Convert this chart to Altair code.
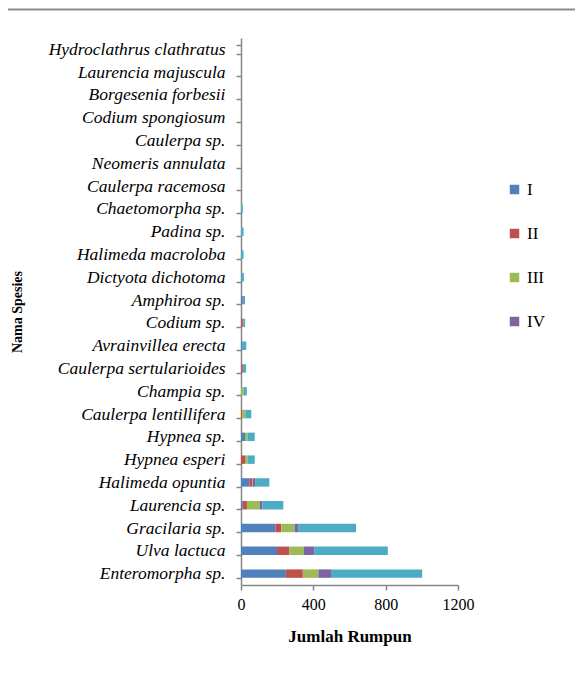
import altair as alt
import pandas as pd

species = [
    "Hydroclathrus clathratus", "Laurencia majuscula", "Borgesenia forbesii",
    "Codium spongiosum", "Caulerpa sp.", "Neomeris annulata", "Caulerpa racemosa",
    "Chaetomorpha sp.", "Padina sp.", "Halimeda macroloba", "Dictyota dichotoma",
    "Amphiroa sp.", "Codium sp.", "Avrainvillea erecta", "Caulerpa sertularioides",
    "Champia sp.", "Caulerpa lentillifera", "Hypnea sp.", "Hypnea esperi",
    "Halimeda opuntia", "Laurencia sp.", "Gracilaria sp.", "Ulva lactuca",
    "Enteromorpha sp.",
]
series = ["I", "II", "III", "IV", "V"]
vals_I = [0, 0, 0, 0, 0, 0, 0, 0, 0, 0, 2, 4, 0, 9, 0, 0, 0, 22, 0, 46, 9, 190, 199, 248]
vals_II = [0, 0, 0, 0, 0, 0, 0, 0, 0, 0, 0, 0, 10, 0, 10, 0, 6, 0, 22, 17, 24, 33, 68, 94]
vals_III = [0, 0, 0, 0, 0, 0, 0, 0, 0, 0, 0, 0, 0, 0, 0, 15, 18, 15, 15, 2, 70, 75, 81, 86]
vals_IV = [0, 0, 0, 0, 0, 0, 0, 0, 0, 0, 0, 6, 3, 0, 0, 0, 0, 0, 0, 13, 15, 18, 57, 70]
vals_V = [0, 0, 0, 0, 0, 0, 0, 10, 14, 14, 14, 12, 10, 20, 18, 17, 33, 39, 39, 79, 116, 320, 407, 504]
colors = ["#4F81BD", "#C0504D", "#9BBB59", "#8064A2", "#4BACC6"]
x_ticks = [0, 400, 800, 1200]

rows = []
for s_i, (name, vals) in enumerate(zip(series, [vals_I, vals_II, vals_III, vals_IV, vals_V])):
    for sp, v in zip(species, vals):
        rows.append({"Spesies": sp, "Seri": name, "Jumlah": v, "urut": s_i})
df = pd.DataFrame(rows)

FONT = "Liberation Serif"

bars = alt.Chart(df).mark_bar().encode(
    y=alt.Y("Spesies:N", sort=species,
            scale=alt.Scale(paddingInner=0.63, paddingOuter=0.315),
            axis=alt.Axis(title="Nama Spesies", labelFont=FONT, labelFontStyle="italic",
                          labelFontSize=17.5, labelColor="black", labelPadding=11,
                          tickBand="extent", tickSize=5, tickColor="#868686",
                          domainColor="#868686", domainWidth=1.5, tickWidth=1.5,
                          titleFont=FONT, titleFontSize=14, titleFontWeight="bold",
                          titleColor="black", titleX=-217, labelLimit=300)),
    x=alt.X("Jumlah:Q", stack="zero",
            scale=alt.Scale(domain=[0, 1200], nice=False),
            axis=alt.Axis(title="Jumlah Rumpun", values=x_ticks, grid=False, format="d",
                          labelFont=FONT, labelFontSize=16, labelColor="black",
                          tickSize=5, tickColor="#868686", domainColor="#868686",
                          domainWidth=1.5, tickWidth=1.5, labelPadding=6,
                          titleFont=FONT, titleFontSize=17, titleFontWeight="bold",
                          titleColor="black", titlePadding=16, labelFlush=False)),
    color=alt.Color("Seri:N", sort=series,
                    scale=alt.Scale(domain=series, range=colors),
                    legend=alt.Legend(title=None, values=["I", "II", "III", "IV"],
                                      orient="none", legendX=265, legendY=143,
                                      symbolType="square", symbolSize=90,
                                      symbolStrokeWidth=0, rowPadding=26,
                                      labelFont=FONT, labelFontSize=17,
                                      labelColor="black", labelOffset=4)),
    order=alt.Order("urut:Q"),
)

topline = alt.Chart(pd.DataFrame({"a": [0]})).mark_rule(color="#8a8a8a", strokeWidth=2).encode(
    x=alt.value(-233), x2=alt.value(400), y=alt.value(-28.5)
)

chart = alt.layer(bars, topline).properties(
    width=217, height=547,
    autosize=alt.AutoSizeParams(type="none"),
    padding={"left": 233, "top": 30, "right": 117, "bottom": 70},
).configure_view(stroke=None)

chart.save("out.html", embed_options={"renderer": "svg", "actions": False})
